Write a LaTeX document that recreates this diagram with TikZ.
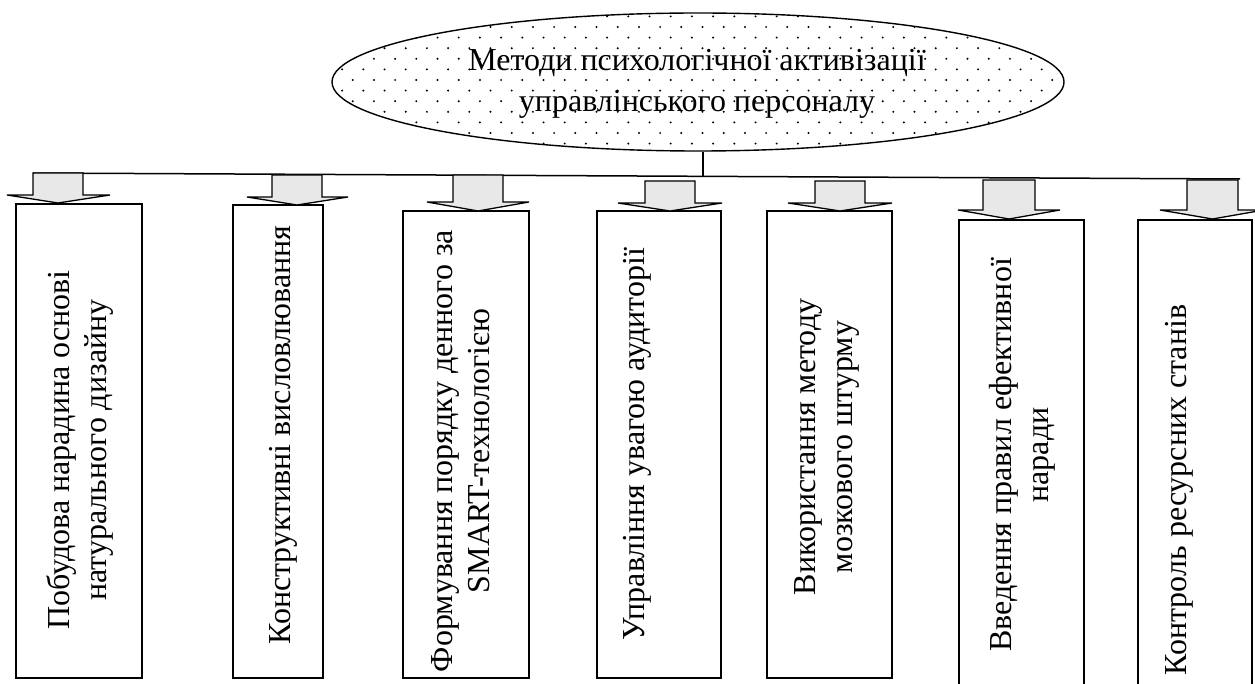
\documentclass[tikz,border=0pt]{standalone}
\usepackage{fontspec}
\setmainfont{Liberation Serif}
\usetikzlibrary{shapes.geometric}
\tikzset{
  boxst/.style={draw, line width=1.5pt, inner sep=0pt, rectangle},
  txt/.style={rotate=90, align=center, font=\fontsize{32}{37}\selectfont, inner sep=0pt},
  arr/.style={draw, fill=black!9, line width=1.3pt, line join=miter},
  bus/.style={line width=1.5pt},
  oval/.style={ellipse, draw, line width=1.4pt, inner sep=0pt},
}
\newcommand\blockarrow[7]{%
  \draw[arr] (#1,#3) -- (#2,#3) -- (#2,#4) -- (#6,#4) -- ({(#1+#2)/2},#7) -- (#5,#4) -- (#1,#4) -- cycle;}
\begin{document}
\begin{tikzpicture}[x=1pt,y=-1pt]
\useasboundingbox (0,0) rectangle (1255,684);
\clip (0,0) rectangle (1255,684);
% dotted ellipse
\begin{scope}
  \clip (698,82) ellipse [x radius=366pt, y radius=69pt];
  \foreach \k in {-7,...,7} {
    \foreach \m in {-2,...,34} {
      \fill ({352.7+21.2*\m+10.6*mod(abs(\k),2)},{80+10.6*\k}) circle (1.1pt);
    }
  }
\end{scope}
\node[oval, minimum width=732pt, minimum height=138pt] (top) at (698,82) {};
\node[font=\fontsize{32}{41}\selectfont, align=center, inner sep=0pt] (ttl) at (697,84)
  {Методи психологічної активізації\\управлінського персоналу};
% bus
\coordinate (busL) at (33,173);
\coordinate (busR) at (1240,179);
\coordinate (join) at (703,176);
\draw[bus] (busL) -- (busR);
\draw[bus] (join) -- (join |- top.south);
% boxes
\node[boxst, minimum width=126pt, minimum height=474pt] (b1) at (79,441) {};
\node[boxst, minimum width=90pt,  minimum height=473pt] (b2) at (278,441.5) {};
\node[boxst, minimum width=126pt, minimum height=467pt] (b3) at (466,444.5) {};
\node[boxst, minimum width=124pt, minimum height=467pt] (b4) at (659,444.5) {};
\node[boxst, minimum width=125pt, minimum height=467pt] (b5) at (829.5,444.5) {};
\node[boxst, minimum width=125pt, minimum height=490pt] (b6) at (1021.5,465) {};
\node[boxst, minimum width=114pt, minimum height=490pt] (b7) at (1195,465) {};
% arrows
\blockarrow{33}{83}{173}{195}{7}{110}{203}
\blockarrow{272}{322}{175}{197}{247}{348}{205}
\blockarrow{453}{503}{175}{202}{427}{529}{211}
\blockarrow{645}{695}{181}{203}{618}{722}{211}
\blockarrow{815}{865}{181}{203}{788}{892}{211}
\blockarrow{983}{1035}{180}{210}{958}{1060}{219}
\blockarrow{1187}{1238}{180}{210}{1160}{1264}{219}
% texts
\node[txt] (t1) at (80,450) {Побудова нарадина основі\\натурального дизайну};
\node[txt] (t2) at (283,435) {Конструктивні висловлювання};
\node[txt] (t3) at (461,451) {Формування порядку денного за\\SMART-технологією};
\node[txt] (t4) at (637,444) {Управління увагою аудиторії};
\node[txt] (t5) at (827,447) {Використання методу\\мозкового штурму};
\node[txt] (t6) at (1022,455) {Введення правил ефективної\\наради};
\node[txt] (t7) at (1179,490) {Контроль ресурсних станів};
\end{tikzpicture}
\end{document}
